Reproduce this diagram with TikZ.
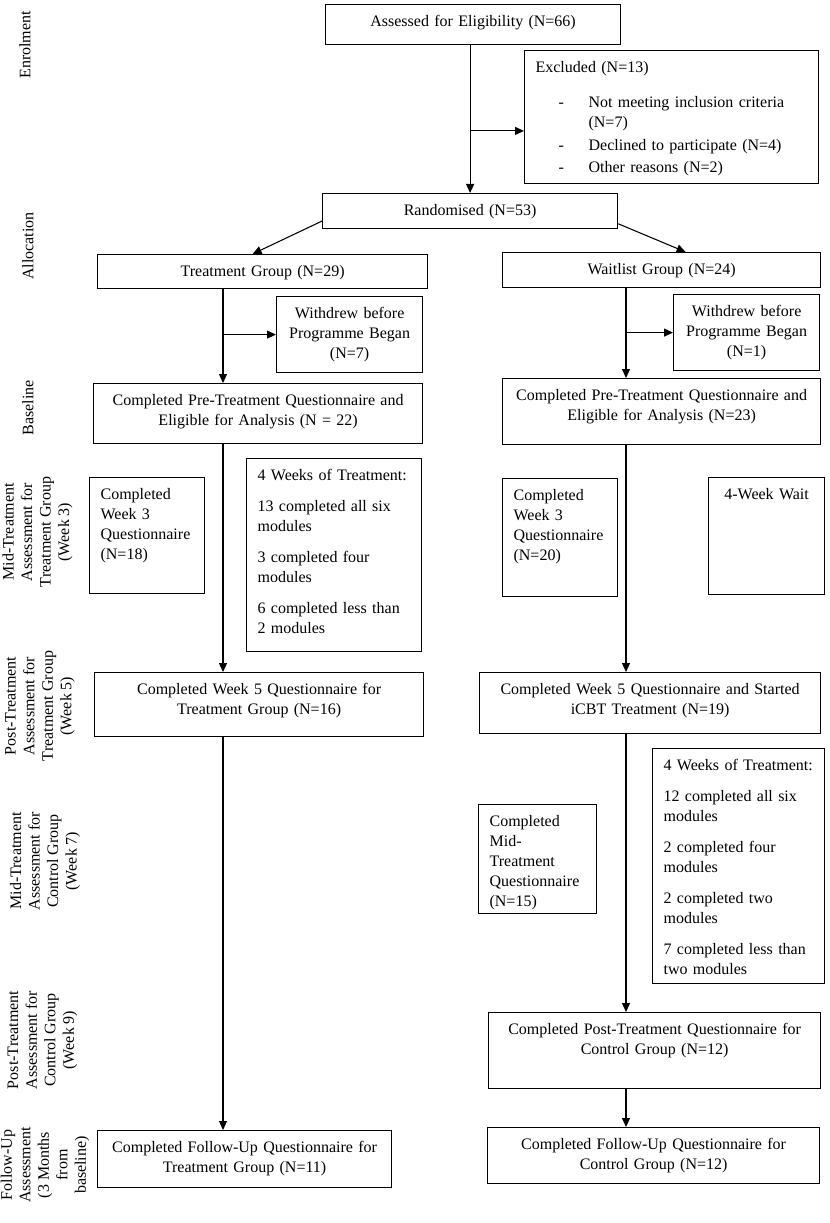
\documentclass[tikz,border=0pt]{standalone}
\usepackage{fontspec}
\setmainfont{Liberation Serif}
\usetikzlibrary{arrows.meta,calc,positioning}
\hyphenpenalty=10000
\exhyphenpenalty=10000
% pixel lengths of the original figure
\newcommand\px[1]{\the\dimexpr#1pt*3/4\relax}
\newcommand\itm{\makebox[\px{56}][l]{\hspace*{\px{26}}-}}
\newcommand\gap{\\[\px{11}]}

\begin{document}
\begin{tikzpicture}[x=0.75pt,y=-0.75pt,
        box/.style 2 args={draw,line width=0.9pt,anchor=north west,align=center,
            inner xsep=\px{8},inner ysep=0pt,
            text width=\the\dimexpr(#1pt-16pt)*3/4\relax,
            text height=16.2pt,text depth=\the\dimexpr#2pt*3/4-16.2pt\relax,
            font=\fontsize{12pt}{15pt}\selectfont},
        lbox/.style 2 args={box={#1}{#2},align=left,inner xsep=\px{11},
            text width=\the\dimexpr(#1pt-22pt)*3/4\relax},
        arr/.style={-{Triangle[length=6.75pt,width=6pt]},line width=0.8pt},
        stage/.style={rotate=90,align=center,inner sep=0pt,
            font=\fontsize{12pt}{13.9pt}\selectfont}
    ]
    \useasboundingbox (0,0) rectangle (829,1223);

    % --- Stage labels ---
    \node[stage] (enrol) at (25,45) {Enrolment};
    \node[stage] (alloc) at (28,246) {Allocation};
    \node[stage] (base) at (28,408) {Baseline};
    \node[stage] (midT) at (37.5,532) {Mid-Treatment\\ Assessment for\\ Treatment Group\\ (Week 3)};
    \node[stage] (postT) at (40,706) {Post-Treatment\\ Assessment for\\ Treatment Group\\ (Week 5)};
    \node[stage] (midC) at (45,861) {Mid-Treatment\\ Assessment for\\ Control Group\\ (Week 7)};
    \node[stage] (postC) at (42.5,1040) {Post-Treatment\\ Assessment for\\ Control Group\\ (Week 9)};
    \node[stage] (follow) at (45,1165) {Follow-Up\\ Assessment\\ (3 Months\\ from\\ baseline)};

    % --- Enrolment and allocation ---
    \node[box={295}{40}] (assess) at (325,4) {Assessed for Eligibility (N=66)};
    \node[box={294}{133},align=left] (excl) at (524,50) {\hspace*{\px{3}}Excluded (N=13)\\[\px{15}]
        \itm Not meeting inclusion criteria\\
        \hspace*{\px{56}}(N=7)\\[\px{3}]
        \itm Declined to participate (N=4)\\[\px{2}]
        \itm Other reasons (N=2)};
    \node[box={295}{35}] (rand) at (322,193) {Randomised (N=53)};
    \node[box={330}{34}] (treat) at (97,254) {Treatment Group (N=29)};
    \node[box={318}{35}] (wait) at (502,252) {Waitlist Group (N=24)};
    \node[box={146}{76}] (wdL) at (276,296) {Withdrew before\\ Programme Began\\ (N=7)};
    \node[box={146}{76}] (wdR) at (673,294) {Withdrew before\\ Programme Began\\ (N=1)};

    % --- Baseline ---
    \node[box={329}{60}] (preL) at (93,383) {Completed Pre-Treatment Questionnaire and\\ Eligible for Analysis (N = 22)};
    \node[box={318}{66}] (preR) at (502,378) {Completed Pre-Treatment Questionnaire and\\ Eligible for Analysis (N=23)};

    % --- Weeks 3 and 5 ---
    \node[lbox={115}{116}] (wk3L) at (89,477) {Completed\\ Week 3\\ Questionnaire\\ (N=18)};
    \node[lbox={175}{193}] (fourL) at (246,458) {4 Weeks of Treatment:\gap
        13 completed all six\\ modules\gap 3 completed four\\ modules\gap
        6 completed less than\\ 2 modules};
    \node[lbox={115}{118}] (wk3R) at (502,478) {Completed\\ Week 3\\ Questionnaire\\ (N=20)};
    \node[box={116}{117}] (wwait) at (708,477) {4-Week Wait};
    \node[box={329}{64}] (wk5L) at (94,672) {Completed Week 5 Questionnaire for\\ Treatment Group (N=16)};
    \node[box={341}{61}] (wk5R) at (479,672) {Completed Week 5 Questionnaire and Started\\ iCBT Treatment (N=19)};

    % --- Control group treatment and follow-up ---
    \node[lbox={118}{109}] (midQ) at (478,804) {Completed\\ Mid-\\ Treatment\\ Questionnaire\\ (N=15)};
    \node[lbox={172}{235}] (fourR) at (652,748) {4 Weeks of Treatment:\gap
        12 completed all six\\ modules\gap 2 completed four\\ modules\gap
        2 completed two\\ modules\gap 7 completed less than\\ two modules};
    \node[box={332}{76}] (postQ) at (488,1012) {Completed Post-Treatment Questionnaire for\\ Control Group (N=12)};
    \node[box={294}{57}] (fuL) at (97,1130) {Completed Follow-Up Questionnaire for\\ Treatment Group (N=11)};
    \node[box={332}{56}] (fuR) at (487,1127) {Completed Follow-Up Questionnaire for\\ Control Group (N=12)};

    % --- Flow lines ---
    \coordinate (cL) at (223,0);
    \coordinate (cR) at (626,0);
    \coordinate (ex) at ($(assess.south -| rand.north)!0.58!(rand.north)$);
    \draw[arr] (assess.south -| rand.north) -- (rand.north);
    \draw[arr] (ex) -- (ex -| excl.west);
    \draw[arr] ($(rand.south west)!0.45!(rand.west)$) -- ($(treat.north)+(-10,0)$);
    \draw[arr] ($(rand.south east)!0.3!(rand.east)$) -- ($(wait.north)+(24,0)$);
    \draw[arr] (treat.south -| cL) -- (preL.north -| cL);
    \draw[arr] (wdL.west -| cL) -- (wdL.west);
    \draw[arr] (preL.south -| cL) -- (wk5L.north -| cL);
    \draw[arr] (wk5L.south -| cL) -- (fuL.north -| cL);
    \draw[arr] (wait.south -| cR) -- (preR.north -| cR);
    \draw[arr] (wdR.west -| cR) -- (wdR.west);
    \draw[arr] (preR.south -| cR) -- (wk5R.north -| cR);
    \draw[arr] (wk5R.south -| cR) -- (postQ.north -| cR);
    \draw[arr] (postQ.south -| cR) -- (fuR.north -| cR);

\end{tikzpicture}
\end{document}
